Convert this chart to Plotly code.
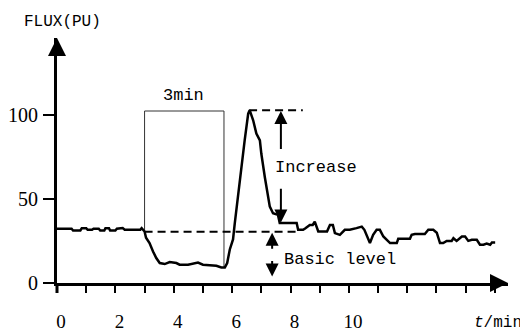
import plotly.graph_objects as go

# ---- data ----
time_min = [0.0, 0.5, 0.55, 0.8, 0.85, 1.0, 1.05, 1.2, 1.25, 1.43, 1.48, 1.62, 1.66, 1.78, 1.82,
            2.0, 2.05, 2.25, 2.32, 2.85, 2.9, 2.95, 3.0, 3.05, 3.17, 3.29, 3.4, 3.52, 3.69, 3.86,
            4.09, 4.2, 4.49, 4.83, 5.0, 5.46, 5.63, 5.75, 5.83, 5.92, 6.03, 6.09, 6.2, 6.26, 6.37,
            6.43, 6.55, 6.6, 6.72, 6.83, 6.95, 7.0, 7.12, 7.23, 7.29, 7.4, 7.57, 7.63, 8.21, 8.26,
            8.43, 8.5, 8.66, 8.76, 8.83, 8.95, 9.25, 9.35, 9.45, 9.52, 9.69, 9.86, 10.03, 10.26,
            10.44, 10.53, 10.72, 10.83, 10.95, 11.06, 11.18, 11.41, 11.64, 11.69, 12.09, 12.15,
            12.26, 12.6, 12.72, 12.89, 13.01, 13.12, 13.23, 13.35, 13.52, 13.58, 13.69, 13.87,
            13.98, 14.09, 14.21, 14.38, 14.49, 14.61, 14.72, 14.84, 14.9, 15.01]
flux_pu = [32.3, 32.3, 31.3, 31.3, 32.7, 32.7, 31.7, 31.7, 32.3, 32.3, 31.3, 31.3, 32.7, 32.7, 31.3,
           31.3, 32.3, 32.7, 31.7, 31.7, 32.7, 31.5, 30.7, 27.0, 23.8, 18.8, 14.9, 11.9, 11.3, 12.5,
           11.9, 10.9, 10.9, 12.2, 10.9, 10.3, 9.3, 9.3, 11.9, 20.0, 26.0, 35.6, 51.5, 63.3, 77.2,
           85.1, 101.0, 103.0, 97.0, 89.0, 85.0, 77.0, 63.0, 51.5, 45.5, 41.6, 40.6, 35.7, 35.7, 31.7,
           31.7, 32.5, 34.6, 34.6, 36.6, 30.7, 30.7, 34.6, 34.6, 29.7, 28.7, 31.7, 31.7, 32.7,
           33.6, 31.7, 23.8, 28.7, 31.7, 31.7, 27.7, 23.8, 23.8, 26.3, 26.3, 28.7,
           29.2, 29.2, 31.7, 31.7, 30.0, 23.8, 23.8, 25.1, 25.1, 26.7, 25.1, 27.7,
           27.7, 25.1, 25.7, 25.7, 22.8, 22.8, 23.5, 22.8, 24.1, 24.1]

x_tick_vals = list(range(0, 16))
x_tick_text = ["0", "", "2", "", "4", "", "6", "", "8", "", "10", "", "", "", "", ""]
y_tick_vals = [0, 50, 100]
y_tick_text = ["0", "50", "100"]

window_start, window_end = 3.0, 5.72      # "3min" window
window_top = 102.5
peak_level = 103.0
basic_level = 30.6
basic_line_end = 8.32
peak_line_start, peak_line_end = 6.58, 8.42

x_range = [0, 15.45]
y_range = [0, 146]

MONO = "Liberation Mono"
SERIF = "Liberation Serif"

def flux_at(t):
    for i in range(len(time_min) - 1):
        if time_min[i] <= t <= time_min[i + 1]:
            f = (t - time_min[i]) / (time_min[i + 1] - time_min[i])
            return flux_pu[i] + f * (flux_pu[i + 1] - flux_pu[i])
    return flux_pu[-1]

fig = go.Figure()

# 3-min window box (open at bottom)
fig.add_trace(go.Scatter(
    x=[window_start, window_start, window_end, window_end],
    y=[flux_at(window_start), window_top, window_top, flux_at(window_end)],
    mode="lines", line=dict(color="#333333", width=1), hoverinfo="skip", showlegend=False))

# dashed basic level & peak level
fig.add_trace(go.Scatter(x=[window_start, basic_line_end], y=[basic_level, basic_level],
                         mode="lines", line=dict(color="black", width=2, dash="8px,5px"),
                         showlegend=False, hoverinfo="skip"))
fig.add_trace(go.Scatter(x=[peak_line_start, peak_line_end], y=[peak_level, peak_level],
                         mode="lines", line=dict(color="black", width=2, dash="8px,5px"),
                         showlegend=False, hoverinfo="skip"))

# signal
fig.add_trace(go.Scatter(x=time_min, y=flux_pu, mode="lines",
                         line=dict(color="black", width=2.5), showlegend=False))

arrow_common = dict(axref="x", ayref="y", xref="x", yref="y", showarrow=True,
                    arrowhead=2, arrowsize=1.3, arrowwidth=2, arrowcolor="black", text="")

annotations = [
    # Increase arrows
    dict(x=7.67, y=peak_level - 0.5, ax=7.67, ay=79, **arrow_common),
    dict(x=7.67, y=36.0, ax=7.67, ay=57, **arrow_common),
    # Basic level arrows
    dict(x=7.37, y=basic_level - 0.6, ax=7.37, ay=19.5, **arrow_common),
    dict(x=7.37, y=3.8, ax=7.37, ay=14, **arrow_common),
    # text labels
    dict(x=7.39, y=68.8, xref="x", yref="y", text="Increase", showarrow=False,
         xanchor="left", yanchor="middle", font=dict(family=MONO, size=17, color="black")),
    dict(x=7.72, y=13.8, xref="x", yref="y", text="Basic level", showarrow=False,
         xanchor="left", yanchor="middle", font=dict(family=MONO, size=17, color="black")),
    dict(x=4.32, y=111.5, xref="x", yref="y", text="3min", showarrow=False,
         xanchor="center", yanchor="middle", font=dict(family=MONO, size=17, color="black")),
    # axis titles
    dict(x=0, y=1, xref="paper", yref="paper", xshift=-35, yshift=16, text="FLUX(PU)",
         showarrow=False, xanchor="left", yanchor="middle",
         font=dict(family=MONO, size=16, color="black")),
    dict(x=1, y=0, xref="paper", yref="paper", xshift=16, yshift=-40, text="<i>t</i>/min",
         showarrow=False, xanchor="right", yanchor="middle",
         font=dict(family=MONO, size=16, color="black")),
    # axis arrowheads
    dict(x=0, y=1, xref="paper", yref="paper", ax=0, ay=12, showarrow=True, arrowhead=2,
         arrowsize=1.2, arrowwidth=3, arrowcolor="black", text=""),
    dict(x=1, y=0, xref="paper", yref="paper", ax=-12, ay=0, showarrow=True, arrowhead=2,
         arrowsize=1.2, arrowwidth=3, arrowcolor="black", text=""),
]

# page body adds an 8px offset; figure sized so it fits the window exactly
fig.update_layout(
    width=520, height=326,
    margin=dict(l=49, r=20, t=30, b=51, autoexpand=False),
    paper_bgcolor="white", plot_bgcolor="white",
    annotations=annotations,
    shapes=[dict(type="line", xref="paper", yref="paper", ysizemode="pixel", yanchor=0,
                 x0=0, x1=0, y0=0, y1=-10, line=dict(color="black", width=3))],
)
fig.update_xaxes(range=x_range, tickvals=x_tick_vals, ticktext=x_tick_text, automargin=False,
                 showline=True, linewidth=3, linecolor="black", showgrid=False, zeroline=False,
                 ticks="outside", ticklen=7, tickwidth=1.5, tickcolor="black",
                 ticklabelshift=4, ticklabelstandoff=12,
                 tickfont=dict(family=SERIF, size=19, color="black"))
fig.update_yaxes(range=y_range, tickvals=y_tick_vals, ticktext=y_tick_text, automargin=False,
                 showline=True, linewidth=3, linecolor="black", showgrid=False, zeroline=False,
                 ticks="outside", ticklen=11, tickwidth=2, tickcolor="black",
                 ticklabelstandoff=1,
                 tickfont=dict(family=SERIF, size=20, color="black"))

fig.write_html("out.html")
